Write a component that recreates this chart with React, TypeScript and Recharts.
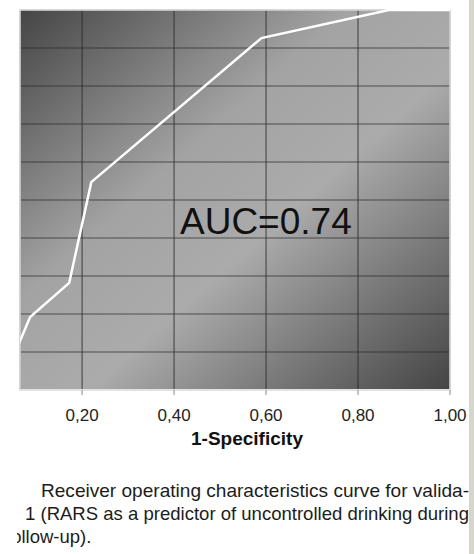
import { LineChart, Line, XAxis, YAxis, CartesianGrid, ReferenceArea } from 'recharts'

// ROC points (1-specificity, sensitivity)
const fpr = [0, 0.02, 0.087, 0.172, 0.22, 0.59, 0.867, 1]
const sens = [0, 0, 0.192, 0.282, 0.547, 0.926, 1, 1]

const xTicks = [0.2, 0.4, 0.6, 0.8, 1]
const yTicks = [0.1, 0.2, 0.3, 0.4, 0.5, 0.6, 0.7, 0.8, 0.9]

const captionLines = [
  'Receiver operating characteristics curve for valida-',
  '1 (RARS as a predictor of uncontrolled drinking during',
  'follow-up).'
]

const data = fpr.map((x, i) => ({ fpr: x, sens: sens[i] }))

const font = '"Liberation Sans", Arial, sans-serif'

const App = () => {
  return (
    <div style={{ position: 'absolute', left: 0, top: 0, width: 474, height: 554, background: '#fff', overflow: 'hidden' }}>
      <LineChart
        width={474}
        height={460}
        data={data}
        margin={{ top: 10, right: 24, bottom: 10, left: 20 }}
      >
        <defs>
          <linearGradient id='bgGrad' x1='0' y1='0' x2='1' y2='1'>
            <stop offset='0%' stopColor='#454545' />
            <stop offset='38%' stopColor='#a3a3a3' />
            <stop offset='58%' stopColor='#ababab' />
            <stop offset='100%' stopColor='#444444' />
          </linearGradient>
        </defs>
        <CartesianGrid
          fill='url(#bgGrad)'
          fillOpacity={1}
          stroke='#2a2a2a'
          strokeOpacity={0.7}
          strokeWidth={1.2}
        />
        <XAxis
          type='number'
          dataKey='fpr'
          domain={[0.065, 1]}
          allowDataOverflow
          ticks={xTicks}
          tickFormatter={(v: number) => v.toFixed(2).replace('.', ',')}
          tickSize={5}
          tickMargin={14}
          tickLine={{ stroke: '#8a8a8a' }}
          axisLine={{ stroke: '#e2e2e2', strokeWidth: 2 }}
          tick={{ fill: '#222', fontSize: 17, fontFamily: font }}
          height={60}
          label={{
            value: '1-Specificity',
            position: 'insideBottom',
            offset: 5,
            dx: 12,
            style: { fill: '#111', fontSize: 19, fontWeight: 'bold', fontFamily: font }
          }}
        />
        <YAxis type='number' domain={[0, 1]} ticks={yTicks} hide />
        <ReferenceArea x1={0.065} x2={1} y1={0} y2={1} fill='none' stroke='#e4e4e4' strokeWidth={1.5} />
        <Line
          type='linear'
          dataKey='sens'
          stroke='#ffffff'
          strokeWidth={2.5}
          dot={false}
          isAnimationActive={false}
        />
        <text x={180} y={234} fontSize={37} fontFamily={font} fill='#111'>
          AUC=0.74
        </text>
      </LineChart>
      <svg width={474} height={554} style={{ position: 'absolute', left: 0, top: 0 }}>
        <defs>
          <clipPath id='capClip'>
            <rect x={17} y={460} width={452} height={94} />
          </clipPath>
        </defs>
        <g clipPath='url(#capClip)' fontFamily={font} fontSize={18.5} fill='#1c1c1c'>
          <text x={41} y={497} textLength={428} lengthAdjust='spacingAndGlyphs'>{captionLines[0]}</text>
          <text x={25} y={520} textLength={444} lengthAdjust='spacingAndGlyphs'>{captionLines[1]}</text>
          <text x={6} y={543}>{captionLines[2]}</text>
        </g>
        <rect x={469} y={0} width={5} height={554} fill='#d6d6ca' />
      </svg>
    </div>
  )
}

export default App
